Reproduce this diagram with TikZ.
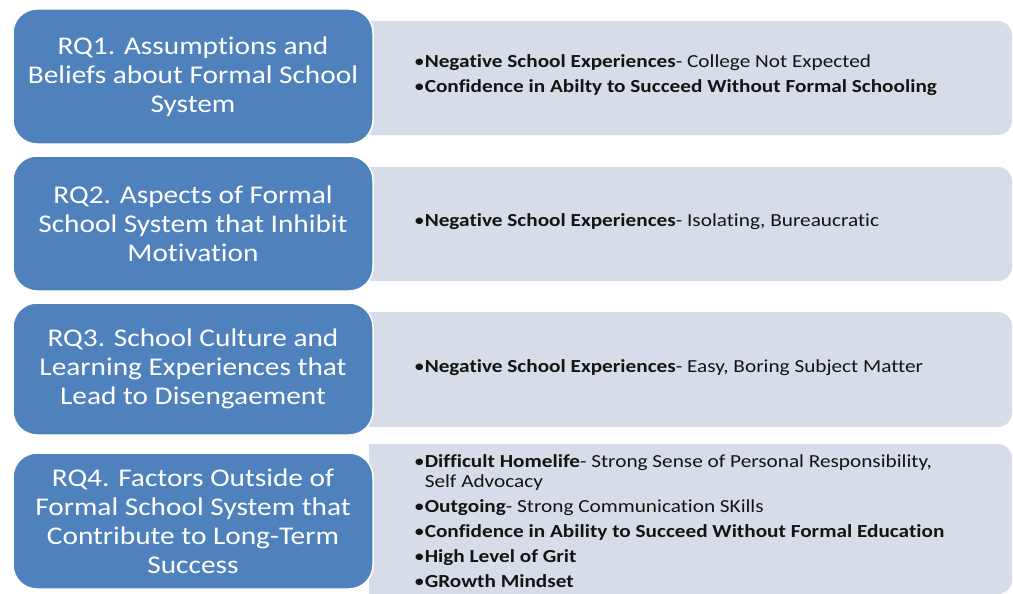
\documentclass[tikz,border=0pt]{standalone}
\usepackage{fontspec}
\setmainfont{Carlito}[Ligatures=NoCommon]
\newfontfamily\rqfont{Carlito}[FakeStretch=1.15, Ligatures=NoCommon]
\newfontfamily\findfont{Carlito}[FakeStretch=1.155, Ligatures=NoCommon]
\definecolor{rqblue}{RGB}{79,129,189}
\definecolor{panel}{RGB}{214,220,232}
\definecolor{ink}{RGB}{20,20,20}
% light panel, square on the left (hidden behind the blue box), rounded on the right
\newcommand\findpanel[2]{%
  \fill[panel] (369,#1) -- (998,#1) arc[start angle=-90, end angle=0, radius=14]
    -- (1012,#2-14) arc[start angle=0, end angle=90, radius=14]
    -- (369,#2) -- cycle;}
\begin{document}
\begin{tikzpicture}[x=1pt,y=-1pt,
  rqbox/.style={fill=rqblue, draw=white, line width=1.5pt, rounded corners=24pt,
    text=white, align=center, font=\rqfont\fontsize{25.5}{29}\selectfont, inner sep=0pt,
    minimum width=360pt},
  findings/.style={anchor=west, align=left, font=\findfont\fontsize{18.4}{25}\selectfont,
    text=ink, inner sep=0pt}]
\useasboundingbox (0,0) rectangle (1013,594);

% panels holding the findings
\findpanel{21}{135}
\findpanel{167}{281}
\findpanel{312}{427}
\findpanel{444}{594}

% research question boxes
\node[rqbox, minimum height=135pt] (q1) at (193,76.5)
  {RQ1. Assumptions and\\Beliefs about Formal School\\System};
\node[rqbox, minimum height=135pt] (q2) at (193,223.5)
  {RQ2. Aspects of Formal\\School System that Inhibit\\Motivation};
\node[rqbox, minimum height=132pt] (q3) at (193,369)
  {RQ3. School Culture and\\Learning Experiences that\\Lead to Disengaement};
\node[rqbox, minimum height=136pt] (q4) at (193,521)
  {RQ4. Factors Outside of\\Formal School System that\\Contribute to Long-Term\\Success};

% findings
\node[findings] (f1) at (414,75.5)
  {\textbullet\textbf{Negative School Experiences}- College Not Expected\\
   \textbullet\textbf{Confidence in Abilty to Succeed Without Formal Schooling}};
\node[findings] (f2) at (414,222)
  {\textbullet\textbf{Negative School Experiences}- Isolating, Bureaucratic};
\node[findings] (f3) at (414,368)
  {\textbullet\textbf{Negative School Experiences}- Easy, Boring Subject Matter};
\node[findings] (f4) at (414,521)
  {\textbullet\textbf{Difficult Homelife}- Strong Sense of Personal Responsibility,\\[-5pt]
   \hphantom{\textbullet}Self Advocacy\\
   \textbullet\textbf{Outgoing}- Strong Communication SKills\\
   \textbullet\textbf{Confidence in Ability to Succeed Without Formal Education}\\
   \textbullet\textbf{High Level of Grit}\\
   \textbullet\textbf{GRowth Mindset}};
\end{tikzpicture}
\end{document}
